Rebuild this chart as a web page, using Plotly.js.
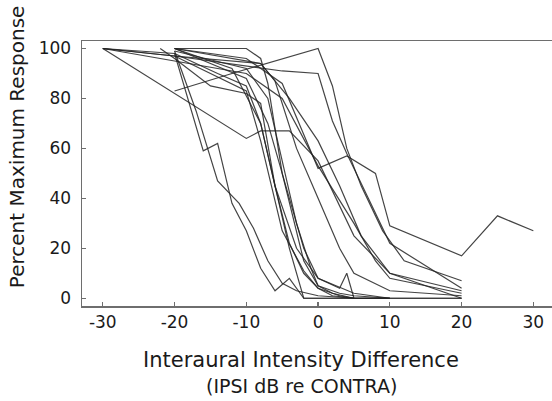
<!DOCTYPE html>
<html>
<head>
<meta charset="utf-8">
<script src="https://cdn.plot.ly/plotly-3.0.1.min.js"></script>
<style>html,body{margin:0;padding:0;background:#fff;}#chart{width:552px;height:401px;}</style>
</head>
<body>
<div id="chart"></div>
<script>
// Interaural intensity difference (dB) and percent maximum response for each neuron
const x1 = [-30,-20,-16,-14,-12,-10,-8,-6,-4,-2,0,5];
const y1 = [100,98,59,62,38,27,12,3,8,0,0,0];
const x2 = [-20,-17,-14,-11,-9,-7,-5,-3,0,5];
const y2 = [99,75,47,38,28,15,6,3,1,0];
const x3 = [-30,-20,-10,-8,-5,-2,0,2,5,10];
const y3 = [100,97,83,63,27,11,4,1,0,0];
const x4 = [-20,-14,-10,-8,-6,-4,-2,0,3,5];
const y4 = [98,90,85,70,45,22,10,4,1,0];
const x5 = [-20,-10,-8,-7,-5,-2,0,3,5,10];
const y5 = [100,100,96,86,50,15,5,2,1,0];
const x6 = [-22,-20,-15,-10,-8,-6,-3,0,5,10];
const y6 = [100,96,85,82,78,45,20,8,2,0];
const x7 = [-30,-10,-8,-4,0,5,10,20];
const y7 = [100,64,67,67,55,25,10,3];
const x8 = [-20,-10,-5,0,4,8,10,20,25,30];
const y8 = [100,96,86,52,57,50,29,17,33,27];
const x9 = [-20,-12,0,2,4,6,9,12,20];
const y9 = [83,90,100,85,60,45,27,15,7];
const x10 = [-30,-20,-5,0,2,4,7,10,20];
const y10 = [100,97,91,90,71,58,40,22,4];
const x11 = [-20,-8,-6,-3,0,3,5,10,20];
const y11 = [100,94,87,60,40,20,10,3,1];
const x12 = [-30,-20,-10,-5,0,5,8,10,20];
const y12 = [100,95,90,80,53,30,15,8,2];
const x13 = [-20,-8,-4,0,3,6,10,20];
const y13 = [97,94,80,63,45,25,10,0];
const x14 = [-20,-10,-7,-5,-3,-1,0,2,5,10];
const y14 = [99,92,80,55,30,12,5,2,0,0];
const x15 = [-20,-12,-8,-6,-4,-2,0,5,10,20];
const y15 = [100,92,70,45,20,0,0,0,0,0];
const x16 = [-20,-10,-7,-4,-2,0,3,4,5,10,20];
const y16 = [100,88,70,40,20,8,4,10,0,0,0];

const xTickVals = [-30,-20,-10,0,10,20,30];
const xTickText = ['-30','-20','-10','0','10','20','30'];
const yTickVals = [0,20,40,60,80,100];

const xs = [x1,x2,x3,x4,x5,x6,x7,x8,x9,x10,x11,x12,x13,x14,x15,x16];
const ys = [y1,y2,y3,y4,y5,y6,y7,y8,y9,y10,y11,y12,y13,y14,y15,y16];

const traces = xs.map((x, i) => ({
  x: x, y: ys[i], type: 'scatter', mode: 'lines',
  line: {color: 'rgba(35,35,35,0.85)', width: 1.2},
  hoverinfo: 'skip', showlegend: false
}));

const layout = {
  width: 552, height: 401,
  margin: {l: 82, r: 0, t: 41, b: 95},
  paper_bgcolor: '#fff', plot_bgcolor: '#fff',
  showlegend: false,
  font: {family: 'DejaVu Sans', color: '#1a1a1a'},
  xaxis: {
    range: [-32.9, 32.6], showgrid: false, zeroline: false,
    showline: true, linecolor: '#6e6e6e', linewidth: 1.5, mirror: true,
    ticks: 'inside', ticklen: 4, tickcolor: '#6e6e6e', tickwidth: 1.2,
    tickvals: xTickVals, ticktext: xTickText,
    tickfont: {family: 'DejaVu Sans', size: 17, color: '#1a1a1a'}
  },
  yaxis: {
    range: [-3.1, 103], showgrid: false, zeroline: false,
    showline: true, linecolor: '#6e6e6e', linewidth: 1.5,
    ticks: 'inside', ticklen: 4, tickcolor: '#6e6e6e', tickwidth: 1.2,
    tickvals: yTickVals, ticklabelstandoff: 6,
    tickfont: {family: 'DejaVu Sans', size: 17, color: '#1a1a1a'}
  },
  annotations: [
    {text: 'Percent Maximum Response', xref: 'paper', yref: 'paper',
     x: -0.138, y: 0.6, xanchor: 'center', yanchor: 'middle', textangle: -90,
     showarrow: false, font: {family: 'DejaVu Sans', size: 20, color: '#1a1a1a'}},
    {text: 'Interaural Intensity Difference', xref: 'paper', yref: 'paper',
     x: 0.467, y: -0.204, xanchor: 'center', yanchor: 'middle',
     showarrow: false, font: {family: 'DejaVu Sans', size: 21, color: '#1a1a1a'}},
    {text: '(IPSI dB re CONTRA)', xref: 'paper', yref: 'paper',
     x: 0.467, y: -0.302, xanchor: 'center', yanchor: 'middle',
     showarrow: false, font: {family: 'DejaVu Sans', size: 19, color: '#1a1a1a'}}
  ]
};

Plotly.newPlot('chart', traces, layout, {displayModeBar: false, staticPlot: true});
</script>
</body>
</html>
